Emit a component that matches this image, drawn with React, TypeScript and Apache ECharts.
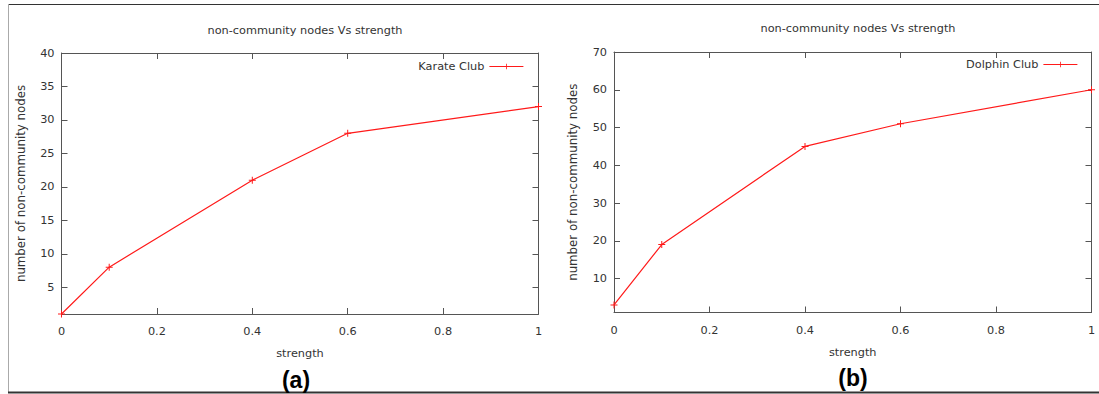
import React, { useEffect, useRef } from "react";
import * as echarts from "echarts";

// Fraction of community strength on the x axis
const strength = [0, 0.1, 0.4, 0.6, 1];
// Nodes left outside any community, per network
const karateNodes = [1, 8, 21, 28, 32];
const dolphinNodes = [3, 19, 45, 51, 60];

const xTicks = [0, 0.2, 0.4, 0.6, 0.8, 1];
const karateYTicks = [5, 10, 15, 20, 25, 30, 35, 40];
const dolphinYTicks = [10, 20, 30, 40, 50, 60, 70];

const chartTitle = "non-community nodes Vs strength";
const xName = "strength";
const yName = "number of non-community nodes";
const panelTags = ["(a)", "(b)"];
const seriesNames = ["Karate Club", "Dolphin Club"];

const FONT = "DejaVu Sans";
const TEXT = "#333";
const FRAME = "#555";
const RED = "#ff1a1a";
// a thin "+" made of two 1-unit bars
const PLUS = "path://M0,3L7,3L7,4L0,4ZM3,0L4,0L4,7L3,7Z";

const grids = [
  { left: 61.5, top: 53, width: 477, height: 261 },
  { left: 614, top: 52, width: 477.5, height: 260.5 },
];

const frameLine = { show: true, onZero: false, lineStyle: { color: FRAME, width: 1 } };

function xPair(gridIndex: number) {
  const common = {
    gridIndex,
    type: "value" as const,
    min: 0,
    max: 1,
    interval: 0.2,
    splitLine: { show: false },
    axisLine: frameLine,
    axisTick: { show: true, inside: true, length: 6, lineStyle: { color: FRAME } },
  };
  return [
    {
      ...common,
      position: "bottom",
      name: xName,
      nameLocation: "middle",
      nameGap: 34,
      nameTextStyle: { fontFamily: FONT, fontSize: 11.3, color: TEXT },
      axisLabel: {
        margin: 12,
        fontFamily: FONT,
        fontSize: 11.3,
        color: TEXT,
        formatter: (v: number) => String(xTicks.find((t) => Math.abs(t - v) < 1e-9) ?? v),
      },
    },
    { ...common, position: "top", axisLabel: { show: false } },
  ];
}

function yPair(gridIndex: number, ticks: number[]) {
  const common = {
    gridIndex,
    type: "value" as const,
    min: 1,
    max: ticks[ticks.length - 1],
    splitLine: { show: false },
    axisLine: frameLine,
    axisTick: {
      show: true,
      inside: true,
      length: 6,
      customValues: ticks,
      lineStyle: { color: FRAME },
    },
  };
  return [
    {
      ...common,
      position: "left",
      name: yName,
      nameLocation: "middle",
      nameGap: 35,
      nameRotate: 90,
      nameTextStyle: { fontFamily: FONT, fontSize: 11.8, color: TEXT },
      axisLabel: {
        margin: 7,
        fontFamily: FONT,
        fontSize: 11.3,
        color: TEXT,
        customValues: ticks,
      },
    },
    { ...common, position: "right", axisLabel: { show: false } },
  ];
}

function lineSeries(name: string, values: number[], axisIndex: number) {
  return {
    type: "line",
    name,
    xAxisIndex: axisIndex,
    yAxisIndex: axisIndex,
    data: strength.map((s, i) => [s, values[i]]),
    symbol: PLUS,
    symbolSize: 7,
    showAllSymbol: true,
    lineStyle: { color: RED, width: 1.2 },
    itemStyle: { color: RED },
    emphasis: { disabled: true },
  };
}

const titleStyle = { fontFamily: FONT, fontSize: 11.3, fontWeight: "normal", color: TEXT };
const legendBase = {
  align: "right",
  padding: 0,
  itemWidth: 34,
  itemHeight: 7,
  itemGap: 0,
  selectedMode: false,
  lineStyle: { width: 1.2 },
  textStyle: { fontFamily: FONT, fontSize: 11.3, color: TEXT },
};
const tagFont = "bold 23px 'Liberation Sans', Arial, sans-serif";

export default function App() {
  const ref = useRef<HTMLDivElement>(null);

  useEffect(() => {
    if (!ref.current) return;
    const chart = echarts.init(ref.current, undefined, { renderer: "svg" });
    const [xa0, xa1] = xPair(0);
    const [xb0, xb1] = xPair(1);
    const [ya0, ya1] = yPair(0, karateYTicks);
    const [yb0, yb1] = yPair(1, dolphinYTicks);

    chart.setOption({
      animation: false,
      backgroundColor: "#fff",
      textStyle: { fontFamily: FONT },
      title: [
        { text: chartTitle, left: 300, top: 20, textAlign: "center", textStyle: titleStyle },
        { text: chartTitle, left: 853, top: 18, textAlign: "center", textStyle: titleStyle },
      ],
      legend: [
        { ...legendBase, data: [seriesNames[0]], right: 575, top: 61 },
        { ...legendBase, data: [seriesNames[1]], right: 21, top: 59 },
      ],
      grid: grids.map((g) => ({ ...g, containLabel: false })),
      // indices 0/1 are the panels' main axes, 2/3 the mirrored top/right copies
      xAxis: [xa0, xb0, xa1, xb1],
      yAxis: [ya0, yb0, ya1, yb1],
      series: [
        lineSeries(seriesNames[0], karateNodes, 0),
        lineSeries(seriesNames[1], dolphinNodes, 1),
      ],
      graphic: [
        // outer frame
        { type: "line", shape: { x1: 8, y1: 4.5, x2: 1099, y2: 4.5 }, style: { stroke: "#333", lineWidth: 1 } },
        { type: "line", shape: { x1: 8.5, y1: 4, x2: 8.5, y2: 392 }, style: { stroke: "#aaa", lineWidth: 1 } },
        { type: "line", shape: { x1: 8, y1: 392.5, x2: 1099, y2: 392.5 }, style: { stroke: "#333", lineWidth: 2 } },
        {
          type: "text",
          x: 296,
          y: 380,
          style: { text: panelTags[0], align: "center", verticalAlign: "middle", font: tagFont, fill: "#000" },
        },
        {
          type: "text",
          x: 853,
          y: 378,
          style: { text: panelTags[1], align: "center", verticalAlign: "middle", font: tagFont, fill: "#000" },
        },
      ],
    });
    return () => chart.dispose();
  }, []);

  return (
    <div
      ref={ref}
      style={{ position: "fixed", left: 0, top: 0, width: 1099, height: 394 }}
    />
  );
}
